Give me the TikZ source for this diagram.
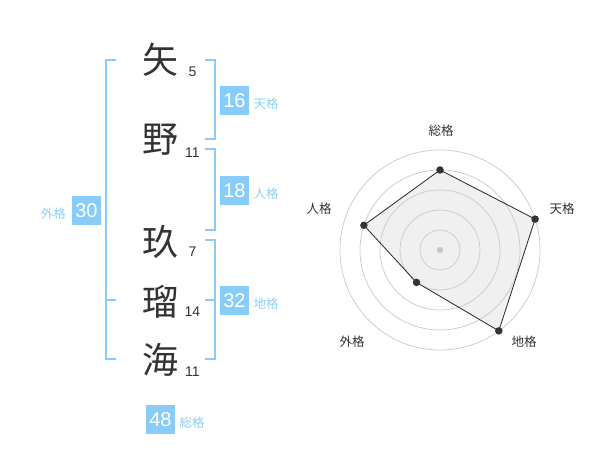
\documentclass[tikz,border=0pt]{standalone}
\usepackage{fontspec}
\setmainfont{Liberation Sans}
\newfontfamily\cjk{Noto Sans CJK JP}
\definecolor{kanji}{HTML}{333333}
\definecolor{skyb}{HTML}{88CDFA}
\definecolor{skyt}{HTML}{8DCFF7}
\definecolor{ringc}{HTML}{C8C8C8}
\definecolor{polyf}{HTML}{F0F0F0}
\tikzset{
  kanjinode/.style={inner sep=0pt, text=kanji, font=\cjk\fontsize{36}{36}\selectfont},
  strokenum/.style={inner sep=0pt, anchor=base, text=kanji, font=\fontsize{14}{14}\selectfont},
  valbox/.style={fill=skyb, minimum size=29pt, inner sep=0pt, text=white, font=\fontsize{20}{20}\selectfont},
  kaku/.style={inner sep=0pt, text=skyt, font=\cjk\fontsize{12.5}{12.5}\selectfont},
  bracketline/.style={draw=skyb, line width=2pt},
  ring/.style={draw=ringc, line width=0.7pt},
  radarlabel/.style={inner sep=0pt, text=kanji, font=\cjk\fontsize{12.5}{12.5}\selectfont},
  radardot/.style={circle, fill=kanji, inner sep=0pt, minimum size=7.5pt},
}
\begin{document}
\begin{tikzpicture}[x=1pt, y=-1pt]
\useasboundingbox (0,0) rectangle (600,470);
% characters
\node[kanjinode] (c1) at (160,60) {矢};
\node[kanjinode] (c2) at (160,140) {野};
\node[kanjinode] (c3) at (160,242) {玖};
\node[kanjinode] (c4) at (160,302) {瑠};
\node[kanjinode] (c5) at (160,360) {海};
% stroke numbers
\node[strokenum] (n1) at (192.5,77) {5};
\node[strokenum] (n2) at (192.5,157.5) {11};
\node[strokenum] (n3) at (192.5,257) {7};
\node[strokenum] (n4) at (192.5,317) {14};
\node[strokenum] (n5) at (192.5,377) {11};
% brackets
\draw[bracketline] (116,60) -- (106,60) -- (106,359.5) -- (116,359.5);
\draw[bracketline] (106,300) -- (116,300);
\draw[bracketline] (205,60) -- (215,60) -- (215,139.5) -- (205,139.5);
\draw[bracketline] (205,149.5) -- (215,149.5) -- (215,230) -- (205,230);
\draw[bracketline] (205,240) -- (215,240) -- (215,359.5) -- (205,359.5);
\draw[bracketline] (215,300) -- (205,300);
% boxes
\node[valbox] (b16) at (234.5,100.5) {16};
\node[kaku, anchor=west] (l16) at (253.5,104) {天格};
\node[valbox] (b18) at (234.5,190.5) {18};
\node[kaku, anchor=west] (l18) at (253.5,194) {人格};
\node[valbox] (b32) at (234.5,300.5) {32};
\node[kaku, anchor=west] (l32) at (253.5,304) {地格};
\node[valbox] (b30) at (86.5,210.5) {30};
\node[kaku, anchor=east] (l30) at (66,214) {外格};
\node[valbox] (b48) at (160.5,419.5) {48};
\node[kaku, anchor=west] (l48) at (179.5,423) {総格};
% radar
\coordinate (ctr) at (440,250);
\coordinate (pS) at (440,170);
\coordinate (pT) at (535.1,219.1);
\coordinate (pC) at (498.8,330.9);
\coordinate (pG) at (416.5,282.4);
\coordinate (pJ) at (363.9,225.3);
\fill[polyf] (pS) -- (pT) -- (pC) -- (pG) -- (pJ) -- cycle;
\foreach \r in {20,40,60,80,100} \draw[ring] (ctr) circle[radius=\r pt];
\draw[black!85, line width=0.8pt, line join=round] (pS) -- (pT) -- (pC) -- (pG) -- (pJ) -- cycle;
\fill[ringc] (ctr) circle[radius=3.2pt];
\node[radardot] (dS) at (pS) {};
\node[radardot] (dT) at (pT) {};
\node[radardot] (dC) at (pC) {};
\node[radardot] (dG) at (pG) {};
\node[radardot] (dJ) at (pJ) {};
\node[radarlabel] (rS) at (441,130.5) {総格};
\node[radarlabel] (rT) at (562,209) {天格};
\node[radarlabel] (rC) at (524,341.5) {地格};
\node[radarlabel] (rG) at (352,342) {外格};
\node[radarlabel] (rJ) at (319,209) {人格};
\end{tikzpicture}
\end{document}
